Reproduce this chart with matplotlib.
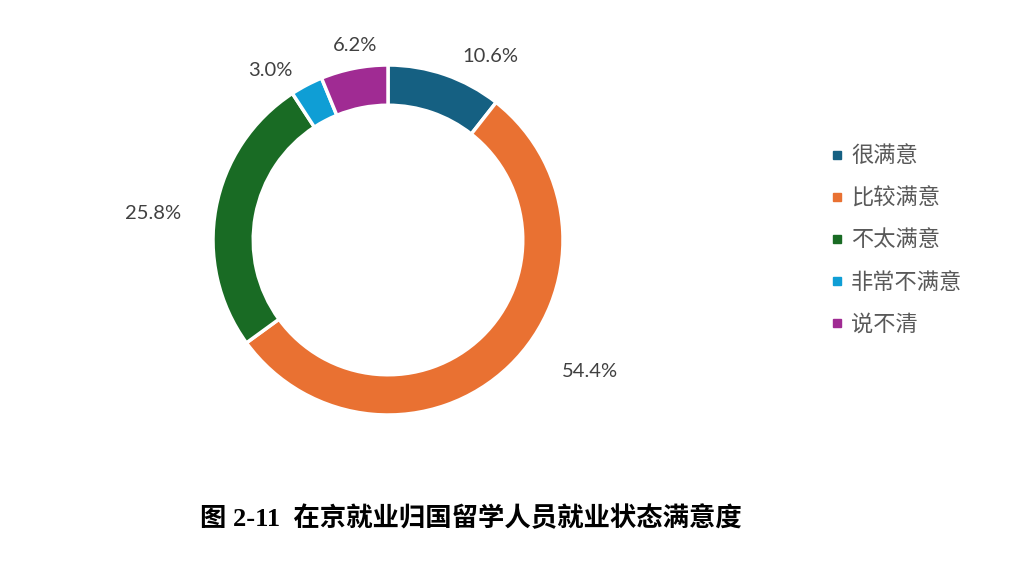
import matplotlib
matplotlib.use("Agg")
import matplotlib.pyplot as plt
import numpy as np
from matplotlib.lines import Line2D

categories = ["很满意", "比较满意", "不太满意", "非常不满意", "说不清"]
values = [10.6, 54.4, 25.8, 3.0, 6.2]
colors = ["#156082", "#E97132", "#196B24", "#0F9ED5", "#A02B93"]
title = "图 2-11  在京就业归国留学人员就业状态满意度"

# label placement styles (radial distance, angular shift in degrees)
label_dist = [1.20, 1.38, 1.35, 1.18, 1.125]
label_shift = [-10, 13, 4, 7, -1.5]

plt.rcParams['font.family'] = ['Noto Sans CJK SC', 'DejaVu Sans']

W, H = 1012, 586
fig = plt.figure(figsize=(W / 100, H / 100), dpi=100)
cx, cy, R = 388, 240, 175
ax = fig.add_axes([(cx - R) / W, (H - cy - R) / H, 2 * R / W, 2 * R / H])
wedges, _ = ax.pie(values, colors=colors, startangle=90, counterclock=False,
                   radius=1.0, wedgeprops=dict(width=0.23, edgecolor="white", linewidth=2.5))
ax.set_xlim(-1, 1)
ax.set_ylim(-1, 1)
ax.set_aspect("equal")
ax.axis("off")

for w, v, d, s in zip(wedges, values, label_dist, label_shift):
    ang = np.deg2rad((w.theta1 + w.theta2) / 2 + s)
    ax.text(d * np.cos(ang), d * np.sin(ang), f"{v:.1f}%", ha="center", va="center",
            fontsize=14.5, color="#404040", family=["Lato", "DejaVu Sans"], clip_on=False)

handles = [Line2D([0], [0], marker="s", linestyle="none", markersize=6,
                  markerfacecolor=c, markeredgecolor=c) for c in colors]
leg = fig.legend(handles, categories, loc="center left", bbox_to_anchor=(830 / W, 1 - 240 / H),
                 frameon=False, fontsize=16, labelspacing=0.86, handlelength=0.6,
                 handletextpad=0.35, borderaxespad=0, borderpad=0)
for t in leg.get_texts():
    t.set_color("#595959")

fig.text(471 / W, 1 - 518 / H, title, ha="center", va="center", fontsize=19,
         fontweight="bold", family=['Liberation Serif', 'Noto Sans CJK SC'], color="black")

fig.savefig("out.png", dpi=100, facecolor="white")
